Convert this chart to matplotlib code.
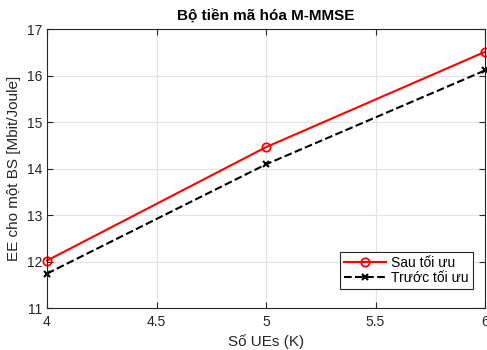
import matplotlib
matplotlib.use("Agg")
import matplotlib.pyplot as plt

# so UE
K = [4, 5, 6]
ee_sau = [12.02, 14.46, 16.51]
ee_truoc = [11.74, 14.09, 16.11]

plt.rcParams['font.family'] = ['Liberation Sans', 'DejaVu Sans']

fig = plt.figure(figsize=(4.87, 3.5), dpi=100)
ax = fig.add_axes([0.0965, 0.12, 0.8995, 0.797])

ax.plot(K, ee_sau, color='r', marker='o', markersize=6, markerfacecolor='none',
        markeredgewidth=1.3, linewidth=1.5, label='Sau tối ưu', clip_on=False)
ax.plot(K, ee_truoc, color='k', linestyle='--', marker='x', markersize=5,
        markeredgewidth=1.5, linewidth=1.5, label='Trước tối ưu', clip_on=False)

ax.set_xlim(4, 6)
ax.set_ylim(11, 17)
ax.set_xticks([4, 4.5, 5, 5.5, 6])
ax.set_xticklabels(['4', '4.5', '5', '5.5', '6'])
ax.set_yticks([11, 12, 13, 14, 15, 16, 17])
ax.grid(True, color='#e3e3e3', linewidth=0.8)
ax.set_axisbelow(True)
ax.tick_params(direction='in', labelsize=10, colors='#262626', length=4, top=True, right=True)
ax.tick_params(axis='x', pad=5)
for s in ax.spines.values():
    s.set_color('#262626')
    s.set_linewidth(0.8)

ax.set_title('Bộ tiền mã hóa M-MMSE', fontsize=11, fontweight='bold', pad=6)
ax.set_xlabel('Số UEs (K)', fontsize=11, color='#262626')
ax.set_ylabel('EE cho một BS [Mbit/Joule]', fontsize=11, color='#262626')

leg = ax.legend(loc='lower right', bbox_to_anchor=(0.973, 0.068), borderaxespad=0,
                fontsize=10, fancybox=False, edgecolor='#262626', framealpha=1,
                handlelength=3.0, borderpad=0.3, labelspacing=0.05, handletextpad=0.4)
leg.get_frame().set_linewidth(0.8)

fig.savefig('out.png', dpi=100)
